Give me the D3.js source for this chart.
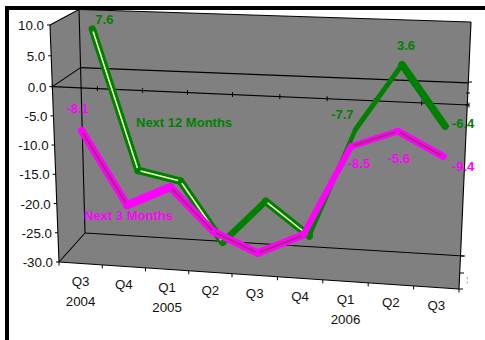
<!DOCTYPE html>
<html>
<head>
<meta charset="utf-8">
<script src="https://cdn.jsdelivr.net/npm/d3@7/dist/d3.min.js"></script>
<style>
html,body{margin:0;padding:0;background:#fff;overflow:hidden}
text{font-family:"Liberation Sans",Arial,sans-serif}
</style>
</head>
<body>
<svg id="chart" width="485" height="340"></svg>
<script>
const quarters = ["Q3","Q4","Q1","Q2","Q3","Q4","Q1","Q2","Q3"];
const years = ["2004",null,"2005",null,null,null,"2006",null,null];
const next12Months = [7.6,-16.7,-18.2,-28.5,-20.9,-26.5,-7.7,3.6,-6.4];
const next3Months = [-8.1,-20.5,-17,-24.2,-27.3,-23.8,-8.5,-5.6,-9.4];
const next12Labelled = [0,6,7,8];
const next3Labelled = [0,6,7,8];

const GREEN = "#008000", MAGENTA = "#ff00ff";
const AXIS_FONT = 13.3, LABEL_FONT = 13;

// Ribbon thickness changes with the viewing angle of each segment.
const next12Widths = [7.5,7.5,7.5,6.5,7.5,4,5,7.5];
const next3Widths = [7.5,8.5,7.5,7.5,7.5,6,6,7];

// Perspective box: corners of the front and back planes of the plot.
const frontBox = {bl:[59,262], tl:[50,25], br:[459,289], tr:[472.5,40.4]};
const backBox  = {bl:[85,233], tl:[79,9.5], br:[463,256], tr:[471,22]};

const across = d3.scaleLinear().domain([0,4,9]).range([0,0.4325,1]);
const height = d3.scaleLinear().domain([-30,0,10]).range([0,0.74,1]);
const mix = d3.interpolateNumber;

function planePoint(box,c,v){
  const u = across(c), h = height(v);
  const b = [mix(box.bl[0],box.br[0])(u), mix(box.bl[1],box.br[1])(u)];
  const t = [mix(box.tl[0],box.tr[0])(u), mix(box.tl[1],box.tr[1])(u)];
  return [mix(b[0],t[0])(h), mix(b[1],t[1])(h)];
}
function project(c,v,depth){
  const f = planePoint(frontBox,c,v), k = planePoint(backBox,c,v);
  return [mix(f[0],k[0])(depth), mix(f[1],k[1])(depth)];
}

const svg = d3.select("#chart");
const line = d3.line();

// Frame strips along the top and left
svg.append("rect").attr("x",5).attr("y",6).attr("width",480).attr("height",4).attr("fill","#000");
svg.append("rect").attr("x",5).attr("y",6).attr("width",4).attr("height",334).attr("fill","#000");

// Grey walls and floor share one silhouette
svg.append("path")
  .attr("d",line([frontBox.tl,backBox.tl,backBox.tr,frontBox.br,frontBox.bl])+"Z")
  .attr("fill","#808080");

const edges = [
  [frontBox.tl,backBox.tl],[backBox.tl,backBox.tr],[backBox.tl,backBox.bl],
  [backBox.tr,frontBox.br],[frontBox.tl,frontBox.bl],[frontBox.bl,frontBox.br],
  [frontBox.bl,backBox.bl],[backBox.bl,[464,256]],
  [project(0,0,0),project(9,0,0)],[project(0,0,1),project(9,0,1)],[project(0,0,0),project(0,0,1)]
];
svg.append("g").selectAll("path").data(edges).join("path")
  .attr("d",d=>line(d)).attr("fill","none").attr("stroke","#000").attr("stroke-width",1.1);

// Ticks on the value axis and its labels
const valueTicks = d3.scaleLinear().domain([-30,10]).ticks(8);
const vAxis = svg.append("g");
vAxis.selectAll("path").data(valueTicks).join("path")
  .attr("d",v=>{const p=project(0,v,0);return line([[p[0]-3,p[1]],[p[0],p[1]]]);})
  .attr("stroke","#000").attr("stroke-width",1);
vAxis.selectAll("text").data(valueTicks).join("text")
  .attr("x",v=>project(0,v,0)[0]-6).attr("y",v=>project(0,v,0)[1]+0.5)
  .attr("text-anchor","end").attr("dominant-baseline","central")
  .attr("font-size",AXIS_FONT).attr("fill","#111").text(v=>v.toFixed(1));

// Category ticks along the floor and along the zero line
const boundaries = d3.range(0,10);
svg.append("g").selectAll("path").data(boundaries).join("path")
  .attr("d",c=>{const p=project(c,-30,0);return line([p,[p[0],p[1]+3.5]]);})
  .attr("stroke","#000").attr("stroke-width",1);
svg.append("g").selectAll("path").data(boundaries).join("path")
  .attr("d",c=>{const p=project(c,0,0);return line([[p[0],p[1]-2.5],[p[0],p[1]+2.5]]);})
  .attr("stroke","#000").attr("stroke-width",1);

// Short ticks on the right-hand edge
const rightTicks = [[468,82,472],[466,93,470],[465,105,469],[461,256,465],[460,273,464],[459,289,463]];
svg.append("g").selectAll("path").data(rightTicks).join("path")
  .attr("d",d=>line([[d[0],d[1]],[d[2],d[1]]])).attr("stroke","#000").attr("stroke-width",1);
svg.append("path").attr("d",line([[467.3,277],[467.3,286]]))
  .attr("stroke","#999").attr("stroke-width",1).attr("stroke-dasharray","2 2.5");

// Category labels
const catLabels = svg.append("g").attr("font-size",AXIS_FONT).attr("fill","#111").attr("text-anchor","middle");
quarters.forEach((q,i)=>{
  const p = project(i+0.5,-30,0);
  catLabels.append("text").attr("x",p[0]).attr("y",p[1]+18).attr("dominant-baseline","central").text(q);
  if(years[i]) catLabels.append("text").attr("x",p[0]).attr("y",p[1]+38).attr("dominant-baseline","central").text(years[i]);
});

// One ribbon per series, with a highlight on the faces that catch the light
function ribbon(values,depth,color,widths,innerColor,innerSegs,innerWidth){
  const pts = values.map((v,i)=>project(i+0.5,v,depth));
  svg.append("path").attr("d",line(pts)).attr("fill","none").attr("stroke",color)
    .attr("stroke-width",d3.min(widths)).attr("stroke-linejoin","miter").attr("stroke-linecap","square");
  svg.append("g").selectAll("path").data(widths).join("path")
    .attr("d",(w,s)=>line([pts[s],pts[s+1]]))
    .attr("stroke",color).attr("stroke-width",w=>w).attr("stroke-linecap","round");
  innerSegs.forEach(s=>{
    const a = pts[s], b = pts[s+1];
    const cut = 2.5/Math.hypot(b[0]-a[0],b[1]-a[1]);
    svg.append("path")
      .attr("d",line([[mix(a[0],b[0])(cut),mix(a[1],b[1])(cut)],[mix(a[0],b[0])(1-cut),mix(a[1],b[1])(1-cut)]]))
      .attr("stroke",innerColor).attr("stroke-width",innerWidth);
  });
  return pts;
}
const next12Pts = ribbon(next12Months,0.7,GREEN,next12Widths,"#ffffc8",[0,1,2,4],1.5);
const next3Pts = ribbon(next3Months,0.2,MAGENTA,next3Widths,"#993366",[0,2,3,4,6,7],1.8);

// Value labels and series names
const valueLabel = (pts,values,idx,offs,color)=>{
  svg.append("g").selectAll("text").data(idx).join("text")
    .attr("x",(d,k)=>pts[d][0]+offs[k][0]).attr("y",(d,k)=>pts[d][1]+offs[k][1])
    .attr("text-anchor","middle").attr("dominant-baseline","central")
    .attr("font-size",LABEL_FONT).attr("font-weight","bold").attr("fill",color)
    .text(d=>values[d].toFixed(1));
};
valueLabel(next12Pts,next12Months,next12Labelled,[[12,-9.5],[-13,-15],[4,-19],[18,-3]],GREEN);
valueLabel(next3Pts,next3Months,next3Labelled,[[-4,-22.5],[8,17],[1,27],[20,10]],MAGENTA);

svg.append("text").attr("x",136).attr("y",122).attr("dominant-baseline","central")
  .attr("font-size",LABEL_FONT).attr("font-weight","bold").attr("fill",GREEN).text("Next 12 Months");
svg.append("text").attr("x",84).attr("y",215).attr("dominant-baseline","central")
  .attr("font-size",LABEL_FONT).attr("font-weight","bold").attr("fill",MAGENTA).text("Next 3 Months");
</script>
</body>
</html>
